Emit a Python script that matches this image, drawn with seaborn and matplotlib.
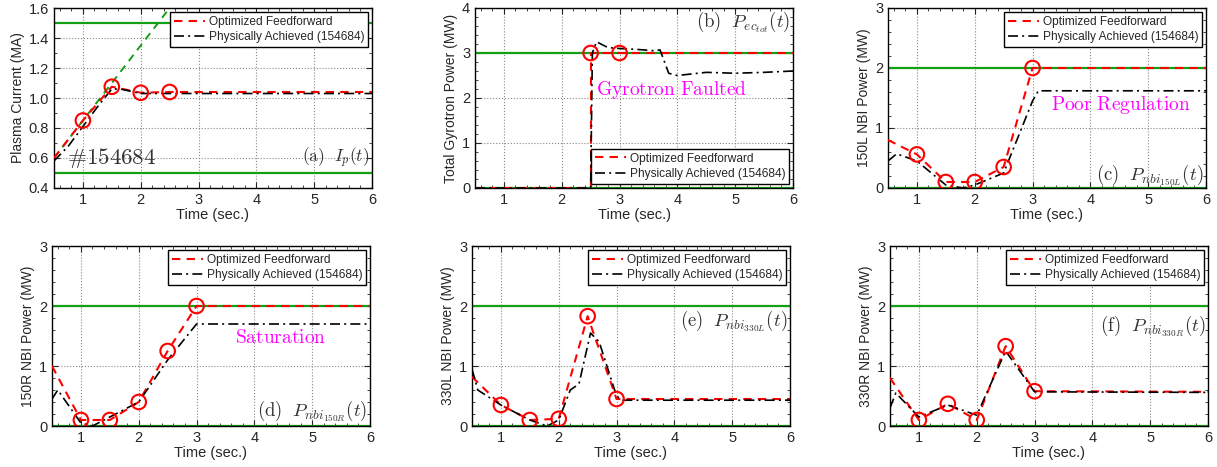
import numpy as np
import matplotlib
matplotlib.use("Agg")
import matplotlib.pyplot as plt
from matplotlib.ticker import AutoMinorLocator, FormatStrFormatter
import pandas as pd
import seaborn as sns

sns.set_style("ticks")
plt.rcParams["font.family"] = ["Liberation Sans", "DejaVu Sans"]
plt.rcParams["mathtext.fontset"] = "cm"

# (a) plasma current
ip_ff_t = [0.5, 1.0, 1.5, 2.0, 2.5, 6.0]
ip_ff_v = [0.60, 0.85, 1.075, 1.035, 1.04, 1.04]
ip_ach_t = [0.5, 0.6, 0.75, 1.0, 1.25, 1.5, 1.65, 2.0, 2.5, 6.0]
ip_ach_v = [0.58, 0.62, 0.68, 0.81, 0.94, 1.06, 1.06, 1.03, 1.03, 1.03]
ip_ramp_t = [0.5, 2.5]
ip_ramp_v = [0.60, 1.60]

# (b) gyrotron power
ec_ff_t = [0.5, 2.5, 2.5, 3.0, 6.0]
ec_ff_v = [0.0, 0.0, 3.0, 3.0, 3.0]
ec_ff_mark_t = [2.5, 3.0]
ec_ff_mark_v = [3.0, 3.0]
ec_ach_t = [0.5, 2.5, 2.53, 2.6, 2.8, 3.0, 3.3, 3.6, 3.7, 3.85, 4.0, 4.5, 5.0, 5.5, 6.0]
ec_ach_v = [0.0, 0.0, 3.0, 3.25, 3.12, 3.1, 3.08, 3.05, 3.07, 2.55, 2.5, 2.57, 2.55, 2.57, 2.6]

# (c) 150L NBI
l150_ff_t = [0.5, 1.0, 1.5, 2.0, 2.5, 3.0, 6.0]
l150_ff_v = [0.80, 0.56, 0.10, 0.10, 0.35, 2.0, 2.0]
l150_ach_t = [0.5, 0.65, 1.0, 1.5, 1.8, 2.0, 2.5, 3.0, 3.1, 6.0]
l150_ach_v = [0.45, 0.57, 0.45, 0.05, 0.0, 0.05, 0.25, 1.45, 1.62, 1.62]

# (d) 150R NBI
r150_ff_t = [0.5, 1.0, 1.5, 2.0, 2.5, 3.0, 6.0]
r150_ff_v = [1.0, 0.10, 0.10, 0.40, 1.25, 2.0, 2.0]
r150_ach_t = [0.5, 0.6, 1.0, 1.2, 1.5, 2.0, 2.5, 3.0, 3.2, 6.0]
r150_ach_v = [0.45, 0.60, 0.05, 0.0, 0.15, 0.40, 1.10, 1.70, 1.70, 1.70]

# (e) 330L NBI
l330_ff_t = [0.5, 1.0, 1.5, 2.0, 2.5, 3.0, 6.0]
l330_ff_v = [0.82, 0.35, 0.10, 0.12, 1.83, 0.45, 0.45]
l330_ach_t = [0.5, 0.6, 1.0, 1.5, 1.8, 2.0, 2.2, 2.35, 2.55, 2.7, 3.0, 3.1, 6.0]
l330_ach_v = [0.95, 0.60, 0.35, 0.10, 0.0, 0.10, 0.60, 0.70, 1.55, 1.40, 0.50, 0.43, 0.43]

# (f) 330R NBI
r330_ff_t = [0.5, 1.0, 1.5, 2.0, 2.5, 3.0, 6.0]
r330_ff_v = [0.80, 0.10, 0.37, 0.10, 1.33, 0.58, 0.57]
r330_ach_t = [0.5, 0.6, 1.0, 1.5, 2.0, 2.5, 3.0, 6.0]
r330_ach_v = [0.30, 0.55, 0.15, 0.35, 0.18, 1.25, 0.57, 0.56]

GREEN = "#14a014"
leg_labels = ["Optimized Feedforward", "Physically Achieved (154684)"]

fig = plt.figure(figsize=(12.17, 4.67), dpi=100)
W, H = 1217, 467
def make_ax(left, top):
    return fig.add_axes([left / W, 1 - (top + 180) / H, 318 / W, 180 / H])

axes = [make_ax(54, 8), make_ax(475, 8), make_ax(888, 8),
        make_ax(52, 246), make_ax(472, 246), make_ax(890, 246)]

panels = [
    (ip_ff_t, ip_ff_v, ip_ff_t[1:5], ip_ff_v[1:5], ip_ach_t, ip_ach_v),
    (ec_ff_t, ec_ff_v, ec_ff_mark_t, ec_ff_mark_v, ec_ach_t, ec_ach_v),
    (l150_ff_t, l150_ff_v, l150_ff_t[1:6], l150_ff_v[1:6], l150_ach_t, l150_ach_v),
    (r150_ff_t, r150_ff_v, r150_ff_t[1:6], r150_ff_v[1:6], r150_ach_t, r150_ach_v),
    (l330_ff_t, l330_ff_v, l330_ff_t[1:6], l330_ff_v[1:6], l330_ach_t, l330_ach_v),
    (r330_ff_t, r330_ff_v, r330_ff_t[1:6], r330_ff_v[1:6], r330_ach_t, r330_ach_v),
]
ylabels = ["Plasma Current (MA)", "Total Gyrotron Power (MW)", "150L NBI Power (MW)",
           "150R NBI Power (MW)", "330L NBI Power (MW)", "330R NBI Power (MW)"]
ylims = [(0.4, 1.6), (0, 4), (0, 3), (0, 3), (0, 3), (0, 3)]
limits = [[0.5, 1.5], [0, 3], [0, 2], [0, 2], [0, 2], [0, 2]]

for i, ax in enumerate(axes):
    ff_t, ff_v, mk_t, mk_v, ach_t, ach_v = panels[i]
    for lv in limits[i]:
        ax.axhline(lv, color=GREEN, lw=1.6, zorder=1)
    if i == 0:
        sns.lineplot(x=ip_ramp_t, y=ip_ramp_v, ax=ax, color=GREEN, lw=1.4,
                     linestyle=(0, (4, 3)), estimator=None, sort=False, zorder=2)
    sns.lineplot(x=ff_t, y=ff_v, ax=ax, color="red", lw=1.5, linestyle=(0, (4, 3)),
                 estimator=None, sort=False, label=leg_labels[0], zorder=3)
    sns.lineplot(x=ach_t, y=ach_v, ax=ax, color="black", lw=1.2,
                 linestyle=(0, (6, 2.5, 1.2, 2.5)), estimator=None, sort=False,
                 label=leg_labels[1], zorder=4)
    sns.scatterplot(x=mk_t, y=mk_v, ax=ax, s=110, facecolors="none", edgecolor="red",
                    linewidth=1.5, zorder=5)
    ax.set_xlim(0.5, 6)
    ax.set_ylim(*ylims[i])
    ax.set_xticks([1, 2, 3, 4, 5, 6])
    if i == 0:
        ax.set_yticks(np.arange(0.4, 1.61, 0.2))
        ax.yaxis.set_major_formatter(FormatStrFormatter("%.1f"))
        ax.yaxis.set_minor_locator(AutoMinorLocator(2))
    else:
        ax.set_yticks(range(int(ylims[i][1]) + 1))
        ax.yaxis.set_minor_locator(AutoMinorLocator(5))
    ax.xaxis.set_minor_locator(AutoMinorLocator(5))
    ax.tick_params(which="both", direction="in", top=True, right=True, labelsize=10.5)
    ax.tick_params(which="major", length=4, width=0.8)
    ax.tick_params(which="minor", length=2, width=0.6)
    ax.grid(True, which="major", linestyle=":", color="#888888", lw=0.8)
    for sp in ax.spines.values():
        sp.set_color("black")
        sp.set_linewidth(1.0)
    ax.set_xlabel("Time (sec.)", fontsize=10.5, labelpad=1)
    ax.set_ylabel(ylabels[i], fontsize=10, labelpad=3)
    leg_loc = "lower right" if i == 1 else "upper right"
    leg = ax.legend(loc=leg_loc, fontsize=8.6, frameon=True, fancybox=False,
                    edgecolor="black", framealpha=1, handlelength=2.6,
                    borderaxespad=0.35, borderpad=0.3, labelspacing=0.3,
                    handletextpad=0.3)
    leg.get_frame().set_linewidth(1.0)

serif_kw = dict(color="#333333")
axes[0].text(0.72, 0.6, r"$\#154684$", fontsize=16.5, va="center", ha="left", **serif_kw)
axes[0].text(5.95, 0.6, r"$\mathrm{(a)}\ \ I_p(t)$", fontsize=12.5, va="center", ha="right", **serif_kw)
axes[1].text(5.95, 3.7, r"$\mathrm{(b)}\ \ P_{ec_{tot}}(t)$", fontsize=13.5, va="center", ha="right", **serif_kw)
axes[2].text(5.95, 0.22, r"$\mathrm{(c)}\ \ P_{nbi_{150L}}(t)$", fontsize=13.5, va="center", ha="right", **serif_kw)
axes[3].text(5.95, 0.25, r"$\mathrm{(d)}\ \ P_{nbi_{150R}}(t)$", fontsize=13.5, va="center", ha="right", **serif_kw)
axes[4].text(5.95, 1.75, r"$\mathrm{(e)}\ \ P_{nbi_{330L}}(t)$", fontsize=13.5, va="center", ha="right", **serif_kw)
axes[5].text(5.95, 1.68, r"$\mathrm{(f)}\ \ P_{nbi_{330R}}(t)$", fontsize=13.5, va="center", ha="right", **serif_kw)

axes[1].text(3.9, 2.18, r"$\mathrm{Gyrotron\ Faulted}$", fontsize=14, color="magenta", ha="center", va="center")
axes[2].text(4.52, 1.38, r"$\mathrm{Poor\ Regulation}$", fontsize=14, color="magenta", ha="center", va="center")
axes[3].text(4.45, 1.47, r"$\mathrm{Saturation}$", fontsize=14, color="magenta", ha="center", va="center")

fig.savefig("out.png", dpi=100)
